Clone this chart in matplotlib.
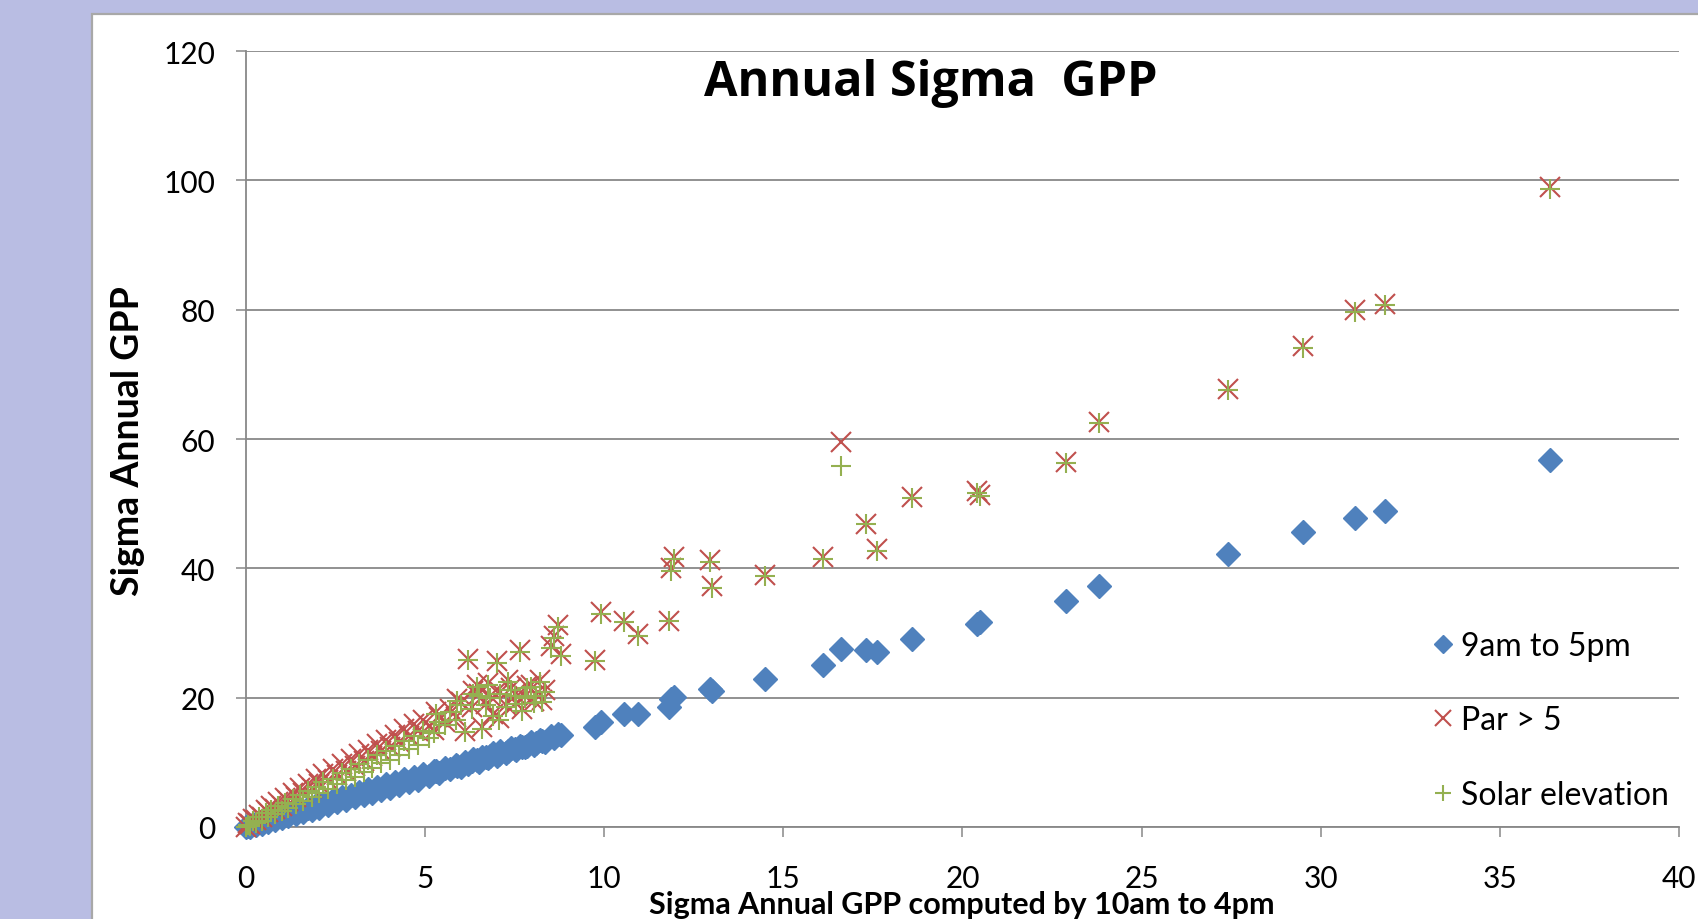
import matplotlib
matplotlib.use('Agg')
import matplotlib.pyplot as plt
from matplotlib.patches import Rectangle

plt.rcParams['font.family'] = ['Lato', 'DejaVu Sans']

# ---------------- data ----------------
gpp_x = [0.0,
         0.05, 0.12, 0.2, 0.28, 0.35, 0.45, 0.55, 0.62, 0.7, 0.8,
         0.9, 1.0, 1.08, 1.18, 1.3, 1.4, 1.5, 1.6, 1.72, 1.85,
         1.95, 2.05, 2.15, 2.3, 2.42, 2.55, 2.68, 2.8, 2.92, 3.05,
         3.15, 3.28, 3.4, 3.52, 3.65, 3.78, 3.9, 4.02, 4.15, 4.28,
         4.4, 4.55, 4.68, 4.8, 4.95, 5.1,
         5.25, 5.4, 5.55, 5.7, 5.85, 6.0, 6.1, 6.2, 6.35, 6.5,
         6.6, 6.75, 6.9, 7.0, 7.1, 7.25, 7.4, 7.55, 7.65, 7.8,
         7.95, 8.05, 8.2, 8.35, 8.5, 8.6, 8.7, 8.8,
         5.3, 5.9, 6.3, 6.45, 6.7, 6.8, 7.05, 7.3, 7.5, 7.7, 7.85, 8.1, 8.25,
         9.75, 9.9, 10.55, 10.95, 11.8, 11.85, 11.95, 12.95, 13.0, 14.5, 16.1, 16.6,
         17.3, 17.6, 18.6, 20.4, 20.5, 22.9, 23.8, 27.4, 29.5, 30.95, 31.8, 36.4]

blue_y = [0.0,
          0.1, 0.0, 0.5, 0.3, 0.8, 0.5, 1.1, 0.8, 1.4, 1.1,
          1.7, 1.4, 2.0, 1.7, 2.4, 2.0, 2.7, 2.3, 3.0, 2.7,
          3.4, 3.0, 3.7, 3.4, 4.2, 3.8, 4.6, 4.2, 5.0, 4.6,
          5.4, 4.9, 5.8, 5.3, 6.2, 5.7, 6.6, 6.1, 7.0, 6.5,
          7.4, 6.9, 7.8, 7.3, 8.2, 7.9,
          8.6, 8.4, 9.1, 8.9, 9.6, 9.3, 10.1, 9.7, 10.5, 10.1,
          10.9, 10.6, 11.4, 11.0, 11.7, 11.4, 12.2, 11.9, 12.6, 12.3,
          13.1, 12.7, 13.5, 13.2, 14.0, 13.7, 14.4, 14.2,
          8.6, 9.5, 10.2, 10.4, 10.8, 11.0, 11.3, 11.8, 12.0, 12.4, 12.6, 13.0, 13.3,
          15.4, 16.3, 17.4, 17.4, 18.6, 19.8, 20.1, 21.4, 21.1, 22.9, 25.0, 27.6,
          27.4, 27.0, 29.1, 31.4, 31.7, 35.0, 37.3, 42.2, 45.6, 47.8, 48.9, 56.8]

par_y = [0.0,
         0.6, 0.5, 1.3, 1.1, 1.9, 1.6, 2.6, 2.3, 3.2, 2.8,
         3.9, 3.3, 4.5, 4.0, 5.3, 4.6, 6.0, 5.2, 6.7, 6.0,
         7.4, 6.6, 8.2, 7.3, 8.9, 8.1, 9.7, 8.7, 10.5, 9.4,
         11.3, 10.2, 11.9, 11.0, 12.8, 11.7, 13.5, 12.4, 14.3, 13.2,
         15.1, 14.1, 15.9, 14.8, 16.6, 15.6,
         15.0, 17.0, 16.2, 18.3, 17.0, 19.4, 14.8, 26.0, 21.0, 20.6,
         15.4, 22.3, 17.5, 25.6, 20.8, 18.9, 21.5, 19.2, 27.3, 20.2,
         22.0, 19.5, 22.8, 21.2, 28.0, 29.5, 31.3, 26.8,
         17.8, 19.8, 18.5, 22.0, 19.0, 20.3, 16.8, 22.8, 20.5, 18.3, 21.8, 20.5, 19.6,
         25.9, 33.2, 31.9, 29.8, 31.9, 40.0, 41.8, 41.3, 37.3, 38.9, 41.7, 59.6,
         46.9, 43.0, 51.0, 51.9, 51.4, 56.5, 62.7, 67.7, 74.4, 80.0, 80.9, 98.9]

sol_y = [0.0,
         0.3, 0.2, 0.9, 0.6, 1.5, 1.0, 2.1, 1.5, 2.6, 2.0,
         3.2, 2.4, 3.7, 3.0, 4.4, 3.5, 5.0, 4.0, 5.6, 4.7,
         6.2, 5.2, 6.9, 5.9, 7.5, 6.6, 8.3, 7.2, 9.0, 7.8,
         9.8, 8.5, 10.3, 9.2, 11.1, 9.9, 11.8, 10.4, 12.5, 11.2,
         13.3, 12.0, 14.1, 12.7, 14.9, 13.8,
         14.6, 16.3, 15.8, 17.8, 16.5, 18.9, 14.7, 25.8, 20.6, 20.3,
         15.1, 21.9, 17.2, 25.3, 20.5, 18.6, 21.2, 19.0, 27.0, 19.9,
         21.7, 19.2, 22.5, 20.9, 27.7, 29.2, 31.0, 26.5,
         17.5, 19.5, 18.3, 21.7, 18.8, 20.0, 16.5, 22.5, 20.2, 18.0, 21.5, 20.2, 19.3,
         25.7, 33.0, 31.7, 29.6, 31.8, 39.6, 41.5, 41.0, 37.0, 38.8, 41.4, 55.8,
         46.8, 42.7, 50.9, 51.6, 51.2, 56.3, 62.5, 67.6, 74.0, 79.6, 80.7, 98.7]

x_ticks = [0, 5, 10, 15, 20, 25, 30, 35, 40]
y_ticks = [0, 20, 40, 60, 80, 100, 120]
series_labels = ['9am to 5pm', 'Par > 5', 'Solar elevation']
title_text = 'Annual Sigma  GPP'
xlabel_text = 'Sigma Annual GPP computed by 10am to 4pm'
ylabel_text = 'Sigma Annual GPP'

# ---------------- figure ----------------
W, H = 1699, 920
fig = plt.figure(figsize=(W / 100, H / 100), dpi=100)
fig.patch.set_facecolor('#B9BDE3')

frame = Rectangle((92 / W, -0.05), 1.0, 1 - 15 / H + 0.05, transform=fig.transFigure,
                  facecolor='white', edgecolor='#A8A8A8', lw=1.6, zorder=-10)
fig.patches.append(frame)

ax = fig.add_axes([246 / W, 1 - 828 / H, (1679 - 246) / W, (828 - 52) / H], zorder=1)
ax.set_facecolor('none')
ax.set_xlim(0, 40)
ax.set_ylim(0, 120)
ax.set_xticks(x_ticks)
ax.set_yticks(y_ticks)
ax.grid(axis='y', color='#888888', lw=1.3)
ax.set_axisbelow(True)
for s in ['top', 'right']:
    ax.spines[s].set_visible(False)
for s in ['left', 'bottom']:
    ax.spines[s].set_color('#888888')
    ax.spines[s].set_linewidth(1.3)
ax.tick_params(axis='both', direction='out', length=7, width=1.1, color='#888888',
               labelsize=21.5, labelcolor='black')
ax.tick_params(axis='x', pad=20)
ax.tick_params(axis='y', pad=15)

ax.plot(gpp_x, blue_y, ls='none', marker='D', ms=12, color='#4F81BD',
        mec='#4F81BD', label=series_labels[0], clip_on=False, zorder=3)
ax.plot(gpp_x, par_y, ls='none', marker='x', ms=14, mew=1.5, color='#C0504D',
        label=series_labels[1], clip_on=False, zorder=4)
ax.plot(gpp_x, sol_y, ls='none', marker='+', ms=14, mew=1.5, color='#94B050',
        label=series_labels[2], clip_on=False, zorder=5)

leg = ax.legend(loc='upper left', bbox_to_anchor=(1432 / W, 1 - 632 / H),
                bbox_transform=fig.transFigure, frameon=False, borderpad=0,
                borderaxespad=0, handlelength=0.7, handletextpad=0.2,
                labelspacing=1.39, fontsize=23, markerscale=0.8)

fig.text(931 / W, 1 - 96 / H, title_text, ha='center', va='baseline',
         fontsize=35, fontweight='bold', family=['Open Sans', 'DejaVu Sans'])
fig.text(128 / W, 1 - 441 / H, ylabel_text, ha='center', va='center',
         rotation=90, fontsize=27, fontweight='bold')
fig.text(962 / W, 1 - 914 / H, xlabel_text, ha='center', va='baseline',
         fontsize=22, fontweight='bold')

fig.savefig('out.png', dpi=100, facecolor=fig.get_facecolor())
